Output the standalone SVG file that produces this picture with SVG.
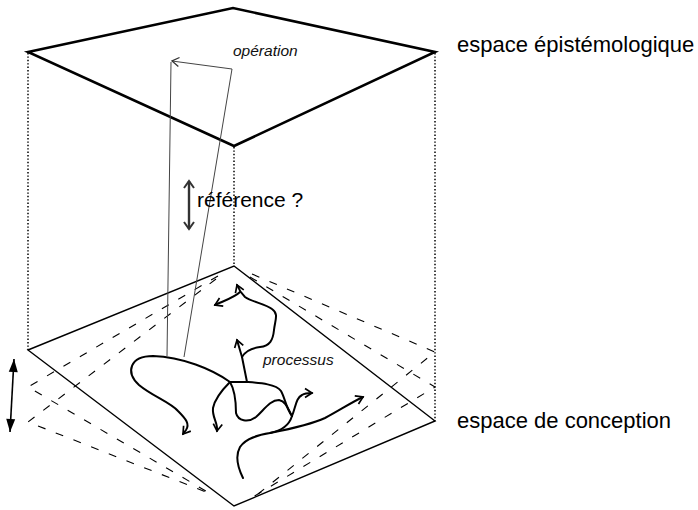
<svg xmlns="http://www.w3.org/2000/svg" width="698" height="510" viewBox="0 0 698 510">
<defs>
<marker id="chev" viewBox="-10 -6 12 12" markerWidth="12" markerHeight="12" refX="0" refY="0" orient="auto-start-reverse" markerUnits="userSpaceOnUse">
<path d="M-7,-4.5 L0,0 L-7,4.5" fill="none" stroke="#000" stroke-width="1.7"/>
</marker>
<marker id="chevGrey" viewBox="-10 -6 12 12" markerWidth="12" markerHeight="12" refX="0" refY="0" orient="auto" markerUnits="userSpaceOnUse">
<path d="M-7,-4.5 L0,0 L-7,4.5" fill="none" stroke="#333" stroke-width="1.3"/>
</marker>
<marker id="chevDark" viewBox="-10 -6 12 12" markerWidth="12" markerHeight="12" refX="0" refY="0" orient="auto-start-reverse" markerUnits="userSpaceOnUse">
<path d="M-7,-5 L0,0 L-7,5" fill="none" stroke="#333" stroke-width="2"/>
</marker>
<marker id="tri" viewBox="-14 -6 16 12" markerWidth="16" markerHeight="12" refX="0" refY="0" orient="auto-start-reverse" markerUnits="userSpaceOnUse">
<path d="M-13,-4.5 L0,0 L-13,4.5 Z" fill="#000"/>
</marker>
</defs>
<style>
.dot{stroke:#000;stroke-width:1.5;stroke-dasharray:1.4 2;fill:none}
.dash{stroke:#000;stroke-width:1.1;stroke-dasharray:8 11;fill:none}
.proc{stroke:#000;stroke-width:2;fill:none;stroke-linecap:round;stroke-linejoin:round}
.thin{stroke:#444;stroke-width:1;fill:none}
.lbl{font-family:"Liberation Sans",Arial,sans-serif;fill:#000}
.it{font-family:"Liberation Sans",Arial,sans-serif;font-style:italic;fill:#111}
</style>

<g id="verticals">
<line class="dot" x1="28" y1="53" x2="28" y2="350"/>
<line class="dot" x1="234" y1="147" x2="234" y2="266"/>
<line class="dot" x1="435" y1="53" x2="435" y2="421"/>
</g>

<g id="dashed-planes">
<polyline class="dash" points="218,276 28,387 211,494"/>
<polyline class="dash" points="216,279 28,422 206,492"/>
<polyline class="dash" points="252,274 435,352 258,494"/>
<polyline class="dash" points="250,277 435,387 253,497"/>
</g>

<g id="espace-conception-plane">
<polygon points="28,350 234,266 435,421 234,506" fill="none" stroke="#000" stroke-width="1.4"/>
</g>

<g id="espace-epistemologique-plane">
<polygon points="28,52 233,8 435,52 234,146" fill="none" stroke="#000" stroke-width="2.6" stroke-linejoin="miter"/>
</g>

<g id="operation">
<line class="thin" x1="171" y1="62" x2="167" y2="356"/>
<polyline class="thin" points="184,357 232,69 172,61" marker-end="url(#chevGrey)"/>
<text class="it" x="233" y="56" font-size="15.5">opération</text>
</g>

<g id="reference">
<line x1="189" y1="181" x2="189" y2="229" stroke="#333" stroke-width="2.4" marker-start="url(#chevDark)" marker-end="url(#chevDark)"/>
<text class="lbl" x="197" y="207" font-size="21">référence ?</text>
</g>

<g id="oscillation">
<line x1="14" y1="359" x2="10" y2="432" stroke="#000" stroke-width="1.6" marker-start="url(#tri)" marker-end="url(#tri)"/>
</g>

<g id="processus">
<path class="proc" d="M230,382 C212,369 182,357 153,356 C130,356 125,372 139,385 C152,396 170,402 178,411 C186,419 190,424 186,430 L183,434" marker-end="url(#chev)"/>
<path class="proc" d="M230,382 C222,390 215,398 213,408 C212,418 218,422 217,431" marker-end="url(#chev)"/>
<path class="proc" d="M230,382 L247,382"/>
<path class="proc" d="M230,382 C236,392 236,405 236,413 C238,421 248,423 256,417 C264,410 270,400 279,400 C287,402 288,410 292,416"/>
<path class="proc" d="M247,382 C260,383 276,384 281,391 C285,398 286,408 292,416"/>
<path class="proc" d="M292,416 C296,406 296,398 302,395 C305,393 308,393 312,393" marker-end="url(#chev)"/>
<path class="proc" d="M243,478 C238,468 235,456 240,447 C246,438 258,435 270,433 C280,431 289,426 292,416"/>
<path class="proc" d="M270,433 C290,429 310,425 325,418 C340,410 352,402 363,397" marker-end="url(#chev)"/>
<path class="proc" d="M247,382 L242,357 L237,340" marker-end="url(#chev)"/>
<path class="proc" d="M242,357 C246,350 252,348 260,347 C270,346 273,340 274,330 C275,320 279,314 272,309 C266,304 252,302 245,297 C241,293 239,290 237,285" marker-end="url(#chev)"/>
<path class="proc" d="M240,292 C235,297 226,300 215,305" marker-end="url(#chev)"/>
<text class="it" x="263" y="365" font-size="15.5">processus</text>
</g>

<g id="labels">
<text class="lbl" x="457" y="52" font-size="22">espace épistémologique</text>
<text class="lbl" x="457" y="428" font-size="22">espace de conception</text>
</g>
</svg>
